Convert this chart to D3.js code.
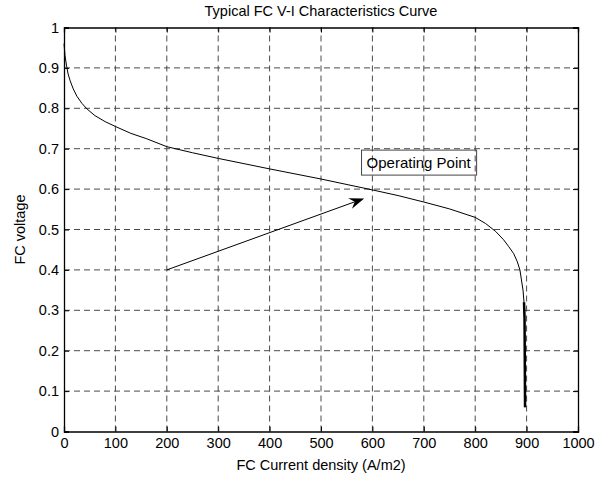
<!DOCTYPE html>
<html><head><meta charset="utf-8">
<script src="https://cdn.jsdelivr.net/npm/d3@7"></script>
<style>body{margin:0;background:#fff}svg{display:block}text{font-family:Arial,"Liberation Sans",Helvetica,sans-serif;fill:#000}</style>
</head><body>
<script>
const current = [0,2,5,8,12,18,25,35,45,60,80,100,130,160,200,250,300,400,500,600,650,700,750,800,820,840,855,865,875,882,887,890,893,895,896,897];
const voltage = [0.96,0.93,0.905,0.885,0.868,0.848,0.83,0.812,0.798,0.782,0.767,0.755,0.738,0.725,0.705,0.69,0.676,0.65,0.625,0.598,0.584,0.568,0.551,0.53,0.515,0.495,0.475,0.458,0.44,0.42,0.4,0.375,0.35,0.32,0.28,0.06];
const xTicks = [0,100,200,300,400,500,600,700,800,900,1000];
const yTicks = [0,0.1,0.2,0.3,0.4,0.5,0.6,0.7,0.8,0.9,1];
const arrowFrom = [200,0.4];
const arrowTo = [584,0.577];
const annotation = "Operating Point";
const annotationAt = [690,0.652];
const title = "Typical FC V-I Characteristics Curve";
const xLabel = "FC Current density (A/m2)";
const yLabel = "FC voltage";

const W=608,H=481;
const m={l:64,r:30,t:27.5,b:49.5};
const svg=d3.select("body").append("svg").attr("width",W).attr("height",H);
const x=d3.scaleLinear().domain([0,1000]).range([m.l,W-m.r]);
const y=d3.scaleLinear().domain([0,1]).range([H-m.b,m.t]);

// grid
const g=svg.append("g");
g.selectAll(".vg").data(xTicks.slice(1,-1)).join("line")
 .attr("x1",d=>x(d)).attr("x2",d=>x(d)).attr("y1",y(0)).attr("y2",y(1))
 .attr("stroke","#4a4a4a").attr("stroke-dasharray","6,4").attr("stroke-width",1);
g.selectAll(".hg").data(yTicks.slice(1,-1)).join("line")
 .attr("y1",d=>y(d)).attr("y2",d=>y(d)).attr("x1",x(0)).attr("x2",x(1000))
 .attr("stroke","#4a4a4a").attr("stroke-dasharray","6,4").attr("stroke-width",1);

// axes
const fs=14.5;
const ax=svg.append("g").attr("transform",`translate(0,${y(0)})`)
 .call(d3.axisBottom(x).tickValues(xTicks).tickSize(-5).tickPadding(6).tickFormat(d3.format("d")));
const axT=svg.append("g").attr("transform",`translate(0,${y(1)})`)
 .call(d3.axisTop(x).tickValues(xTicks).tickSize(-5).tickFormat(""));
const ay=svg.append("g").attr("transform",`translate(${x(0)},0)`)
 .call(d3.axisLeft(y).tickValues(yTicks).tickSize(-5).tickPadding(5).tickFormat(d=>d===0||d===1?d3.format("d")(d):d3.format(".1f")(d)));
const ayR=svg.append("g").attr("transform",`translate(${x(1000)},0)`)
 .call(d3.axisRight(y).tickValues(yTicks).tickSize(-5).tickFormat(""));
[ax,axT,ay,ayR].forEach(a=>{a.select(".domain").attr("stroke","#000").attr("stroke-width",1.3);
 a.selectAll(".tick line").attr("stroke","#000");
 a.selectAll("text").attr("font-size",fs).attr("font-family","Arial, 'Liberation Sans', sans-serif");});

// curve
const pts=current.map((c,i)=>[c,voltage[i]]);
const line=d3.line().x(d=>x(d[0])).y(d=>y(d[1]));
svg.append("path").datum(pts).attr("d",line).attr("fill","none").attr("stroke","#000").attr("stroke-width",1);
svg.append("path").datum(pts.filter(d=>d[1]<=0.32)).attr("d",line).attr("fill","none").attr("stroke","#000").attr("stroke-width",2.5);

// arrow
const x1=x(arrowFrom[0]),y1=y(arrowFrom[1]),x2=x(arrowTo[0]),y2=y(arrowTo[1]);
const ang=Math.atan2(y2-y1,x2-x1);
const L=15,Wd=5.5,back=10;
svg.append("line").attr("x1",x1).attr("y1",y1).attr("x2",x2-Math.cos(ang)*back).attr("y2",y2-Math.sin(ang)*back).attr("stroke","#000").attr("stroke-width",1);
const ca=Math.cos(ang),sa=Math.sin(ang);
const P=(u,v)=>[x2+u*ca-v*sa,y2+u*sa+v*ca];
svg.append("path").attr("d",d3.line()([P(0,0),P(-L,-Wd),P(-back,0),P(-L,Wd)])+"Z").attr("fill","#000");

// annotation box
const tx=svg.append("text").attr("x",x(annotationAt[0])).attr("y",y(annotationAt[1])).attr("text-anchor","middle").attr("font-size",15).text(annotation);
const bb=tx.node().getBBox();
svg.append("rect").attr("x",bb.x-5).attr("y",bb.y-4).attr("width",bb.width+10).attr("height",bb.height+8).attr("fill","none").attr("stroke","#444").attr("stroke-width",1);

// labels
svg.append("text").attr("x",(x(0)+x(1000))/2).attr("y",16).attr("text-anchor","middle").attr("font-size",fs).text(title);
svg.append("text").attr("x",(x(0)+x(1000))/2).attr("y",470).attr("text-anchor","middle").attr("font-size",fs).text(xLabel);
svg.append("text").attr("transform",`translate(25,${(y(0)+y(1))/2}) rotate(-90)`).attr("text-anchor","middle").attr("font-size",fs).text(yLabel);
</script>
</body></html>
